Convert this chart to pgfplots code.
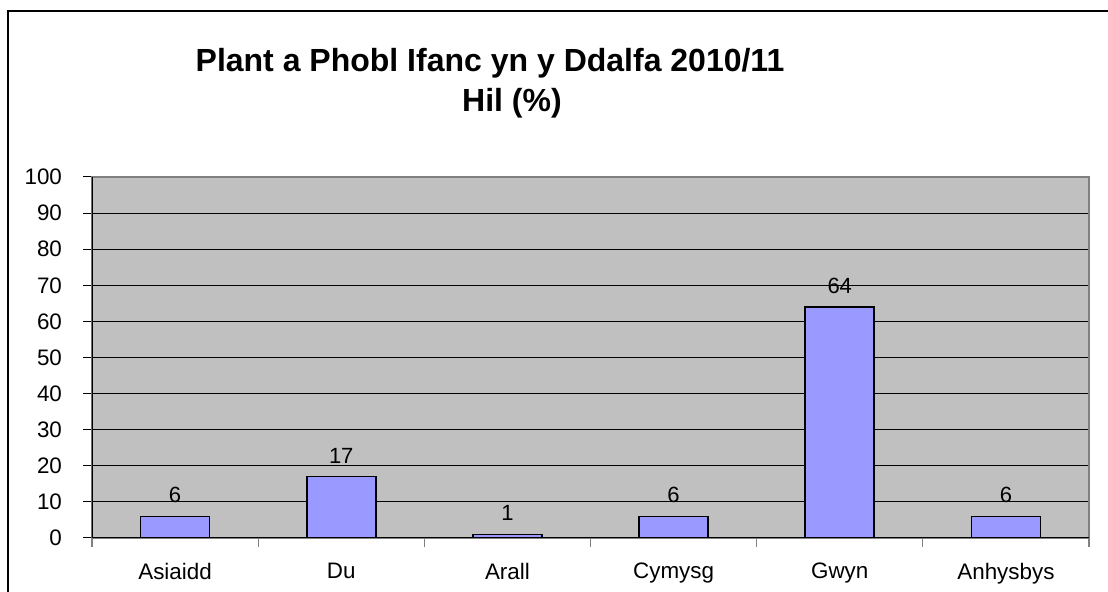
\documentclass[border=0pt]{standalone}
\usepackage{pgfplots}
\pgfplotsset{compat=1.18}
\usepackage{fontspec}
\setmainfont{Liberation Sans}
\definecolor{plotgray}{HTML}{C0C0C0}
\definecolor{barblue}{HTML}{9999FF}
\definecolor{edgegray}{HTML}{808080}
\begin{document}
\begin{tikzpicture}
\useasboundingbox (-46pt,-27pt) rectangle (508pt,269pt);
\draw[line width=1pt] (-42pt,-40pt) -- (-42pt,263.5pt) -- (520pt,263.5pt);
\node[font=\fontsize{16}{19}\selectfont\bfseries, anchor=base] at (199pt,233pt) {Plant a Phobl Ifanc yn y Ddalfa 2010/11};
\node[font=\fontsize{16}{19}\selectfont\bfseries, anchor=base] at (210pt,213pt) {Hil (\%)};
\begin{axis}[
  at={(0pt,0pt)}, anchor=south west,
  scale only axis, width=498.5pt, height=180.5pt,
  xmin=-0.5, xmax=5.5, ymin=0, ymax=100,
  ybar, bar width=34.5pt,
  axis background/.style={fill=plotgray},
  axis line style={draw=edgegray, line width=0.6pt},
  ytick={0,10,...,100},
  ymajorgrids, grid style={black, line width=0.5pt},
  ytick pos=left, xtick pos=bottom,
  tick align=outside,
  major tick length=4.5pt,
  y tick style={black, line width=0.5pt},
  x tick style={edgegray, line width=0.6pt},
  xtick={-0.5,0.5,1.5,2.5,3.5,4.5,5.5},
  x tick label as interval,
  xticklabels={Asiaidd,Du,Arall,Cymysg,Gwyn,Anhysbys},
  ticklabel style={font=\fontsize{11.2}{13}\selectfont},
  yticklabel style={/pgf/number format/assume math mode=true, xshift=-7pt},
  xticklabel style={yshift=-4.5pt},
  nodes near coords,
  every node near coord/.append style={font=\fontsize{11}{13}\selectfont, yshift=3pt, /pgf/number format/assume math mode=true},
]
\addplot[fill=barblue, draw=black, line width=0.8pt] coordinates {(0,6) (1,17) (2,1) (3,6) (4,64) (5,6)};
\draw[black, line width=0.6pt] (rel axis cs:0,0) -- (rel axis cs:0,1);
\draw[black, line width=0.6pt] (rel axis cs:0,0) -- (rel axis cs:1,0);
\end{axis}
\end{tikzpicture}
\end{document}
